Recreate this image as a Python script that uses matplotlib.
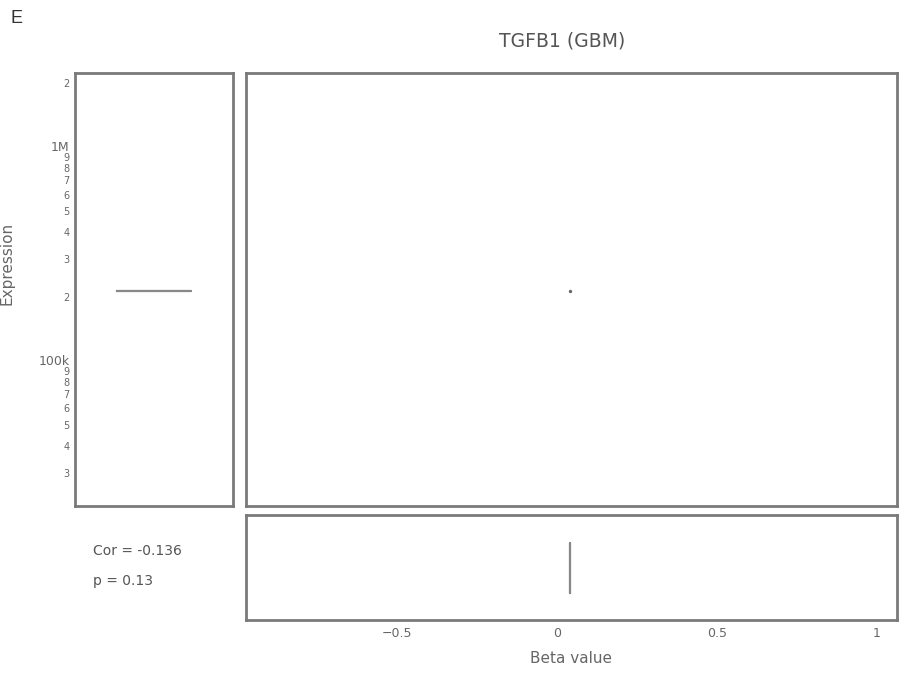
import matplotlib
matplotlib.use('Agg')
import matplotlib.pyplot as plt

# dati
expression = [212000]      # espressione TGFB1
beta = [0.04]              # beta value
cor_txt = 'Cor = -0.136'
p_txt = 'p = 0.13'
y_ticks = [2e6, 1e6, 9e5, 8e5, 7e5, 6e5, 5e5, 4e5, 3e5, 2e5,
           1e5, 9e4, 8e4, 7e4, 6e4, 5e4, 4e4, 3e4]
y_labels = ['2', '1M', '9', '8', '7', '6', '5', '4', '3', '2',
            '100k', '9', '8', '7', '6', '5', '4', '3']
x_ticks = [-0.5, 0, 0.5, 1]
x_labels = ['\u22120.5', '0', '0.5', '1']

grigio = '#7a7a7a'
testo = '#666666'

fig = plt.figure(figsize=(8.99, 6.76), dpi=100, facecolor='white')

ax_l = fig.add_axes([0.0834, 0.2515, 0.1758, 0.6405])
ax_m = fig.add_axes([0.2736, 0.2515, 0.7241, 0.6405])
ax_b = fig.add_axes([0.2736, 0.0828, 0.7241, 0.1553])

for a in (ax_l, ax_m, ax_b):
    for s in a.spines.values():
        s.set_color(grigio)
        s.set_linewidth(2)

# pannello sinistro: boxplot espressione
stile = dict(color='#888888', linewidth=1.5)
ax_l.boxplot(expression, positions=[0], widths=0.47, showfliers=False,
             boxprops=stile, medianprops=stile, whiskerprops=stile, capprops=dict(linewidth=0))
ax_l.set_yscale('log')
ax_l.set_ylim(21000, 2.22e6)
ax_l.set_xlim(-0.5, 0.5)
ax_l.set_xticks([])
ax_l.yaxis.set_minor_locator(plt.NullLocator())
ax_l.set_yticks(y_ticks)
ax_l.set_yticklabels(y_labels)
for lab in ax_l.get_yticklabels():
    if len(lab.get_text()) > 1:
        lab.set_fontsize(9)
        lab.set_verticalalignment('center')
    else:
        lab.set_fontsize(7)
ax_l.tick_params(axis='y', length=0, pad=4, colors=testo)

# pannello centrale: scatter
ax_m.scatter(beta, expression, s=2, color='#666666')
ax_m.set_yscale('log')
ax_m.set_ylim(21000, 2.22e6)
ax_m.set_xlim(-0.972, 1.0625)
ax_m.set_xticks([])
ax_m.set_yticks([])
ax_m.yaxis.set_minor_locator(plt.NullLocator())

# pannello in basso: boxplot beta
ax_b.boxplot(beta, positions=[0], widths=0.476, vert=False, showfliers=False,
             boxprops=stile, medianprops=stile, whiskerprops=stile, capprops=dict(linewidth=0))
ax_b.set_xlim(-0.972, 1.0625)
ax_b.set_ylim(-0.5, 0.5)
ax_b.set_yticks([])
ax_b.set_xticks(x_ticks)
ax_b.set_xticklabels(x_labels, fontsize=9)
ax_b.tick_params(axis='x', length=0, pad=5, colors=testo)
ax_b.set_xlabel('Beta value', fontsize=11, color=testo, labelpad=8)

# testi
fig.text(0.012, 0.973, 'E', fontsize=13, color='#333333', va='center', family='Liberation Sans')
fig.text(0.625, 0.94, 'TGFB1 (GBM)', fontsize=13.5, color='#555555', ha='center', va='center')
fig.text(0.0, 0.61, 'Expression', fontsize=11, color=testo, rotation=90, va='center')
fig.text(0.103, 0.185, cor_txt, fontsize=10, color='#555555', va='center')
fig.text(0.103, 0.140, p_txt, fontsize=10, color='#555555', va='center')

plt.savefig('out.png', dpi=100)
